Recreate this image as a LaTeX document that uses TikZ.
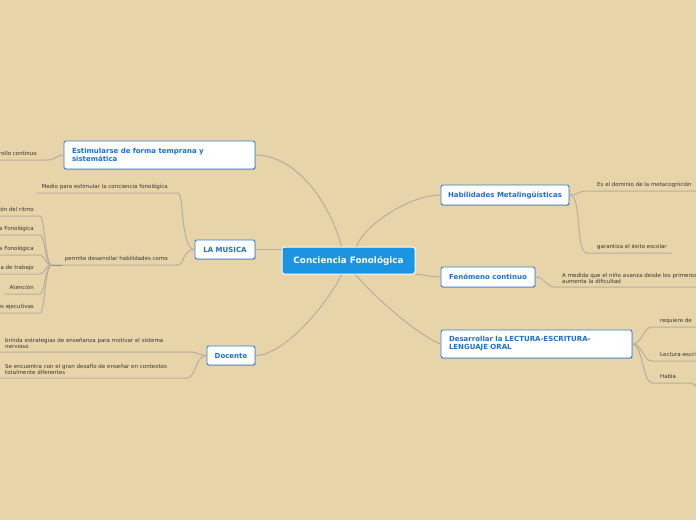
\documentclass[tikz,border=0pt]{standalone}
\usepackage{fontspec}
\setmainfont{DejaVu Sans}
\usetikzlibrary{shadows}
\definecolor{bgc}{HTML}{E8D4A9}
\definecolor{cblue}{HTML}{1B94E1}
\definecolor{tblue}{HTML}{2E7FD9}
\definecolor{ttext}{HTML}{1C6ED6}
\definecolor{lnc}{HTML}{B5AFA0}
\definecolor{lbc}{HTML}{383632}
\tikzset{
  central/.style={fill=cblue, draw=white, line width=1pt, rounded corners=2.5pt, text=white,
    font=\fontsize{8.8}{10}\selectfont\bfseries, minimum width=133pt, minimum height=27pt, inner sep=0pt},
  topic/.style={fill=white, draw=tblue, line width=0.9pt, rounded corners=2pt, text=ttext,
    font=\fontsize{7}{8}\selectfont\bfseries, inner sep=0pt,
    drop shadow={shadow xshift=0.6pt, shadow yshift=-0.8pt, opacity=0.3, fill=black!70}},
  lbl/.style={text=lbc, font=\fontsize{5.5}{6.2}\selectfont, inner xsep=0pt, inner ysep=2.6pt,
    text height=4.1pt, text depth=1.3pt},
  lblm/.style={text=lbc, font=\fontsize{5.5}{6.2}\selectfont, inner xsep=0pt, inner ysep=3.5pt, align=left},
  conn/.style={draw=lnc, line width=1pt},
}
\begin{document}
\begin{tikzpicture}[x=1pt,y=-1pt]
\fill[bgc] (0,0) rectangle (696,520);
\useasboundingbox (0,0) rectangle (696,520);
\clip (0,0) rectangle (696,520);

% main nodes
\node[central] (center) at (348.5,260.5) {Conciencia Fonológica};
\node[topic, minimum width=191pt, minimum height=28pt, text width=175pt, align=left] (estim) at (159.5,155)
  {Estimularse de forma temprana y\\sistemática};
\node[topic, minimum width=60pt, minimum height=19pt] (musica) at (225,249.5) {LA MUSICA};
\node[topic, minimum width=48pt, minimum height=19pt] (docente) at (231,355.5) {Docente};
\node[topic, minimum width=128pt, minimum height=20pt] (habil) at (505,195) {Habilidades Metalingüísticas};
\node[topic, minimum width=94pt, minimum height=20pt] (fenom) at (488,277) {Fenómeno continuo};
\node[topic, minimum width=191pt, minimum height=28pt, text width=175pt, align=left] (desarr) at (536.5,344)
  {Desarrollar la LECTURA-ESCRITURA-\\LENGUAJE ORAL};

% center connectors
\draw[conn] (estim.east) .. controls +(40,0) and +(-12,-45) .. ([xshift=-7pt]center.north);
\draw[conn] (habil.west) .. controls +(-30,0) and +(8,-22) .. ([xshift=8pt]center.north);
\draw[conn] (musica.east) -- (musica.east -| center.west);
\draw[conn] (fenom.west) .. controls +(-10,0) and +(10,0) .. (center.south east);
\draw[conn] (docente.east) .. controls +(30,0) and +(-12,26) .. ([xshift=-7pt]center.south);
\draw[conn] ([xshift=7pt]center.south) .. controls +(20,24) and +(-21,-8) .. (desarr.west);

% Estimularse branch
\node[lbl, anchor=south east] (desc) at (37,160) {Desarrollo continuo};
\draw[conn] (estim.west) .. controls +(-8,0) and +(8,0) .. ([xshift=11pt]desc.south east) -- ([xshift=-5pt]desc.south west);

% LA MUSICA branches
\node[lbl, anchor=south east] (medio) at (168,193) {Medio para estimular la conciencia fonológica};
\draw[conn] (musica.west) .. controls +(-14,0) and +(6,0) .. ([xshift=10pt]medio.south east) -- ([xshift=-5pt]medio.south west);
\node[lbl, anchor=south east] (permite) at (168,265) {permite desarrollar habilidades como};
\draw[conn] (musica.west) .. controls +(-12,0) and +(6,0) .. ([xshift=10pt]permite.south east) -- ([xshift=-13pt]permite.south west);
\coordinate (joint) at ([xshift=-13pt]permite.south west);

\node[lbl, anchor=south east] (s1) at (34,216) {Percepción del ritmo};
\node[lbl, anchor=south east] (s2) at (34,235) {Conciencia Fonológica};
\node[lbl, anchor=south east] (s3) at (34,255) {Memoria Fonológica};
\node[lbl, anchor=south east] (s4) at (34,274) {Memoria de trabajo};
\node[lbl, anchor=south east] (s5) at (34,294) {Atención};
\node[lbl, anchor=south east] (s6) at (34,313) {Funciones ejecutivas};
\foreach \s in {s1,s2,s3,s4,s5,s6}
  \draw[conn] (joint) .. controls +(-7,0) and +(5,0) .. ([xshift=6pt]\s.south east) -- ([xshift=-5pt]\s.south west);
\draw[draw=lnc!80!black, line width=1pt] (joint) -- ++(10,0);

% Docente branches
\node[lblm, anchor=south west, text width=178pt] (brinda) at (5,352)
  {brinda estrategias de enseñanza para motivar el sistema\\nervioso};
\draw[conn] (docente.west) .. controls +(-8,0) and +(6,0) .. ([xshift=8pt]brinda.south east) -- ([xshift=-5pt]brinda.south west);
\node[lblm, anchor=south west, text width=178pt] (enc) at (5,378)
  {Se encuentra con el gran desafío de enseñar en contextos\\totalmente diferentes};
\draw[conn] (docente.west) .. controls +(-11,0) and +(8,0) .. ([xshift=4pt]enc.south east) -- ([xshift=-5pt]enc.south west);

% Habilidades branches
\node[lbl, anchor=south west] (meta) at (597,191) {Es el dominio de la metacognición};
\draw[conn] (habil.east) .. controls +(9,0) and +(-9,0) .. ([xshift=-10pt]meta.south west) -- ([xshift=10pt]meta.south east);
\node[lbl, anchor=south west] (gar) at (597,253) {garantiza el éxito escolar};
\draw[conn] (habil.east) .. controls +(13,0) and +(-12,0) .. ([xshift=-10pt]gar.south west) -- ([xshift=5pt]gar.south east);

% Fenomeno branch
\node[lblm, anchor=south west, text width=200pt] (amed) at (562,287)
  {A medida que el niño avanza desde los primeros años\\aumenta la dificultad};
\draw[conn] (fenom.east) .. controls +(10,0) and +(-10,0) .. ([xshift=-7pt]amed.south west) -- (amed.south east);

% Desarrollar branches
\node[lbl, anchor=south west] (req) at (660,327) {requiere de};
\node[lbl, anchor=south west] (lect) at (660,361) {Lectura-escritura};
\node[lbl, anchor=south west] (habla) at (660,383) {Habla};
\draw[conn] (desarr.east) .. controls +(10,0) and +(-9,0) .. ([xshift=-8pt]req.south west) -- ([xshift=20pt]req.south east);
\draw[conn] (desarr.east) .. controls +(10,0) and +(-9,0) .. ([xshift=-8pt]lect.south west) -- ([xshift=20pt]lect.south east);
\coordinate (hablakid) at (703,392);
\draw[conn] (desarr.east) .. controls +(10,0) and +(-9,0) .. ([xshift=-8pt]habla.south west) -- ([xshift=14pt]habla.south east) .. controls +(6,0) and +(-5,0) .. (hablakid);
\end{tikzpicture}
\end{document}
